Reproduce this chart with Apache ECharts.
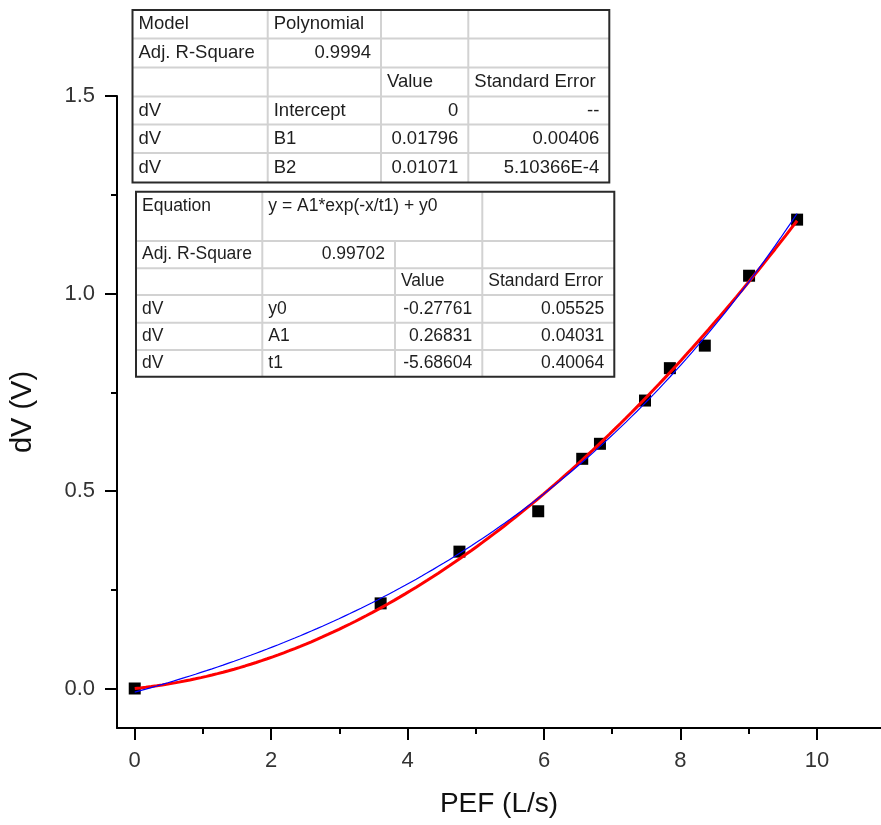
<!DOCTYPE html>
<html>
<head>
<meta charset="utf-8">
<script src="https://cdn.jsdelivr.net/npm/echarts@6/dist/echarts.min.js"></script>
<style>
  html, body { margin: 0; padding: 0; background: #fff; }
  #chart { width: 881px; height: 825px; }
</style>
</head>
<body>
<div id="chart"></div>
<script>
// Measured points: peak expiratory flow vs. voltage change
const pefValues = [0, 3.605, 4.76, 5.915, 6.56, 6.82, 7.48, 7.845, 8.357, 9.006, 9.71];
const dvValues  = [0, 0.2155, 0.3465, 0.4487, 0.5815, 0.6195, 0.729, 0.811, 0.868, 1.045, 1.187];

// Axis ticks
const xMajorTicks = [0, 2, 4, 6, 8, 10];
const xMinorTicks = [1, 3, 5, 7, 9];
const yMajorTicks = [0, 0.5, 1.0, 1.5];
const yMinorTicks = [0.25, 0.75, 1.25];

// Fit coefficients (as reported in the fit tables)
const polyCoefs = [0, 0.01796, 0.01071];          // Intercept, B1, B2
const expCoefs  = [-0.27761, 0.26831, -5.68604];  // y0, A1, t1

// Fit tables
const polyTableRows = [
  ['Model', 'Polynomial', '', ''],
  ['Adj. R-Square', '0.9994', '', ''],
  ['', '', 'Value', 'Standard Error'],
  ['dV', 'Intercept', '0', '--'],
  ['dV', 'B1', '0.01796', '0.00406'],
  ['dV', 'B2', '0.01071', '5.10366E-4']
];
const expTableRows = [
  ['Equation', 'y = A1*exp(-x/t1) + y0', null, ''],
  ['Adj. R-Square', '0.99702', '', ''],
  ['', '', 'Value', 'Standard Error'],
  ['dV', 'y0', '-0.27761', '0.05525'],
  ['dV', 'A1', '0.26831', '0.04031'],
  ['dV', 't1', '-5.68604', '0.40064']
];

const FONT = '"Liberation Sans", Arial, sans-serif';

// Fitted curves evaluated over the measured range
function fitCurve(fn) {
  const lo = Math.min(...pefValues), hi = Math.max(...pefValues);
  const n = 120, pts = [];
  for (let i = 0; i <= n; i++) {
    const x = lo + (hi - lo) * i / n;
    pts.push([x, fn(x)]);
  }
  return pts;
}
const polyCurve = fitCurve(x => polyCoefs[0] + polyCoefs[1] * x + polyCoefs[2] * x * x);
const expCurve  = fitCurve(x => expCoefs[0] + expCoefs[1] * Math.exp(-x / expCoefs[2]));

// Table drawing as graphic elements
function isNumeric(s) { return /^[-+0-9.E]+$/.test(s); }
function buildTable(rows, colX, rowY, fontSize, topLineRows) {
  const children = [];
  const x0 = colX[0], x1 = colX[colX.length - 1];
  const y0 = rowY[0], y1 = rowY[rowY.length - 1];
  children.push({ type: 'rect', shape: { x: x0, y: y0, width: x1 - x0, height: y1 - y0 },
    style: { fill: '#fff', stroke: 'none' } });
  // horizontal inner lines
  for (let r = 1; r < rowY.length - 1; r++) {
    children.push({ type: 'line', shape: { x1: x0, y1: rowY[r], x2: x1, y2: rowY[r] },
      style: { stroke: '#d2d2d2', lineWidth: 2 } });
  }
  // vertical inner lines (skip inside spanned cells)
  for (let c = 1; c < colX.length - 1; c++) {
    for (let r = 0; r < rows.length; r++) {
      if (rows[r][c] === null) continue;
      children.push({ type: 'line', shape: { x1: colX[c], y1: rowY[r], x2: colX[c], y2: rowY[r + 1] },
        style: { stroke: '#d2d2d2', lineWidth: 2 } });
    }
  }
  // texts
  rows.forEach((row, r) => {
    row.forEach((txt, c) => {
      if (!txt) return;
      let cEnd = c + 1;
      while (cEnd < row.length && row[cEnd] === null) cEnd++;
      const right = isNumeric(txt);
      const yMid = topLineRows && topLineRows.includes(r) ? rowY[r] + 14 : (rowY[r] + rowY[r + 1]) / 2;
      children.push({ type: 'text', style: {
        text: txt,
        x: right ? colX[cEnd] - 10 : colX[c] + 6,
        y: yMid,
        align: right ? 'right' : 'left',
        verticalAlign: 'middle',
        fontSize: fontSize, fontFamily: FONT, fill: '#1e1e1e'
      } });
    });
  });
  children.push({ type: 'rect', shape: { x: x0, y: y0, width: x1 - x0, height: y1 - y0 },
    style: { fill: 'none', stroke: '#2a2a2a', lineWidth: 2 } });
  return { type: 'group', z: 100, children };
}

const chart = echarts.init(document.getElementById('chart'), null, { renderer: 'canvas' });

const axisBlack = { color: '#000', width: 2 };
const tickLabelStyle = { fontSize: 22, fontFamily: FONT, color: '#333' };
const xMin = -0.26, xMax = 10.94, yMin = -0.1, yMax = 1.5;

chart.setOption({
  animation: false,
  backgroundColor: '#fff',
  grid: { left: 115, right: 0, top: 96, bottom: 97 },
  xAxis: [
    {
      type: 'value', min: xMin, max: xMax, position: 'bottom',
      axisLine: { show: true, onZero: false, lineStyle: axisBlack },
      axisTick: { show: true, inside: false, length: 12, lineStyle: axisBlack, customValues: xMajorTicks },
      axisLabel: { ...tickLabelStyle, margin: 22, customValues: xMajorTicks, formatter: v => String(v) },
      splitLine: { show: false },
      name: 'PEF (L/s)', nameLocation: 'middle', nameGap: 62,
      nameTextStyle: { fontSize: 28, fontFamily: FONT, color: '#111' }
    },
    {
      type: 'value', min: xMin, max: xMax, position: 'bottom',
      axisLine: { show: false, onZero: false },
      axisTick: { show: true, inside: false, length: 6, lineStyle: axisBlack, customValues: xMinorTicks },
      axisLabel: { show: false },
      splitLine: { show: false }
    }
  ],
  yAxis: [
    {
      type: 'value', min: yMin, max: yMax, position: 'left',
      axisLine: { show: true, onZero: false, lineStyle: axisBlack },
      axisTick: { show: true, inside: false, length: 12, lineStyle: axisBlack, customValues: yMajorTicks },
      axisLabel: { ...tickLabelStyle, margin: 22, customValues: yMajorTicks, formatter: v => v.toFixed(1) },
      splitLine: { show: false },
      name: 'dV (V)', nameLocation: 'middle', nameGap: 80, nameRotate: 90,
      nameTextStyle: { fontSize: 29, fontFamily: FONT, color: '#111' }
    },
    {
      type: 'value', min: yMin, max: yMax, position: 'left',
      axisLine: { show: false, onZero: false },
      axisTick: { show: true, inside: false, length: 6, lineStyle: axisBlack, customValues: yMinorTicks },
      axisLabel: { show: false },
      splitLine: { show: false }
    }
  ],
  series: [
    {
      name: 'dV', type: 'scatter', xAxisIndex: 0, yAxisIndex: 0,
      data: pefValues.map((x, i) => [x, dvValues[i]]),
      symbol: 'rect', symbolSize: 12,
      itemStyle: { color: '#000', opacity: 1 }, z: 2
    },
    {
      name: 'Polynomial fit', type: 'line', xAxisIndex: 0, yAxisIndex: 0,
      data: polyCurve, showSymbol: false, smooth: false,
      lineStyle: { color: '#ff0000', width: 3 }, z: 3
    },
    {
      name: 'Exponential fit', type: 'line', xAxisIndex: 0, yAxisIndex: 0,
      data: expCurve, showSymbol: false, smooth: false,
      lineStyle: { color: '#0000ff', width: 1.2 }, z: 4
    }
  ],
  graphic: [
    buildTable(polyTableRows, [132.5, 267.7, 381, 468.3, 609.3], [10, 38.5, 67.5, 96.5, 124.5, 153, 182.5], 18.5, null),
    buildTable(expTableRows, [136, 262.3, 395, 482.3, 614.3], [191.7, 241, 268.3, 295, 322.7, 350, 376.7], 17.5, [0])
  ]
});
</script>
</body>
</html>
